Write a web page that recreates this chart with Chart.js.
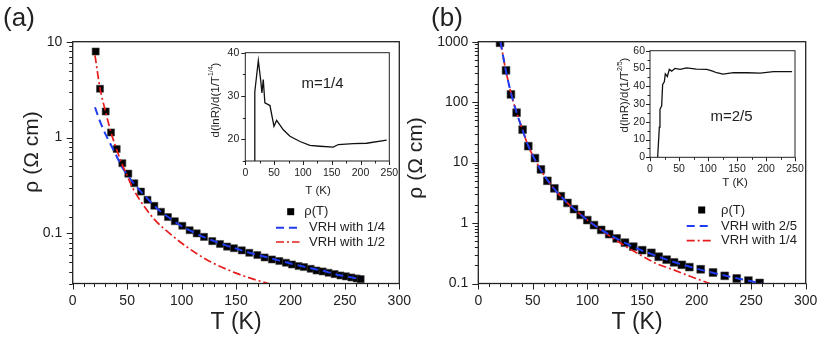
<!DOCTYPE html>
<html>
<head>
<meta charset="utf-8">
<script src="https://cdn.jsdelivr.net/npm/chart.js@4.4.0/dist/chart.umd.min.js"></script>
<style>
  html, body { margin: 0; padding: 0; background: #fff; }
  #wrap { position: relative; width: 831px; height: 337px; }
  #wrap canvas { position: absolute; left: 0; top: 0; }
</style>
</head>
<body>
<div id="wrap">
  <canvas id="mainA" width="831" height="337"></canvas>
  <canvas id="mainB" width="831" height="337"></canvas>
  <canvas id="insetA" width="831" height="337"></canvas>
  <canvas id="insetB" width="831" height="337"></canvas>
</div>
<script>
// ---- panel (a) ----
const aRhoT = [21.1, 25.1, 30.3, 35.2, 40.4, 45.6, 51.1, 56.6, 62.7, 68.7, 75.0, 81.1, 87.5, 93.8, 100.7, 107.4, 113.9, 120.6, 128.2, 135.3, 141.8, 148.1, 155.3, 162.2, 169.6, 176.3, 183.0, 189.8, 195.9, 201.4, 207.5, 212.4, 218.6, 224.0, 229.6, 235.0, 240.6, 246.0, 251.0, 256.0, 260.8, 264.5];
const aRho = [7.9, 3.23, 1.87, 1.13, 0.76, 0.54, 0.42, 0.333, 0.273, 0.224, 0.194, 0.168, 0.148, 0.134, 0.12, 0.108, 0.1, 0.092, 0.083, 0.0775, 0.0728, 0.07, 0.0665, 0.0627, 0.0594, 0.0561, 0.0535, 0.0514, 0.0494, 0.0474, 0.0456, 0.0445, 0.0427, 0.041, 0.0401, 0.0388, 0.0376, 0.0364, 0.0356, 0.0347, 0.0339, 0.0333];

const aVrh14T = [20.5, 25, 30, 35, 40, 45, 50, 55, 60, 70, 80, 90, 100, 110, 120, 130, 140, 150, 160, 170, 180, 190, 200, 210, 220, 230, 240, 250, 260, 265];
const aVrh14 = [2.07, 1.48, 1.09, 0.84, 0.65, 0.5, 0.41, 0.345, 0.295, 0.222, 0.172, 0.142, 0.119, 0.104, 0.092, 0.083, 0.0755, 0.0695, 0.064, 0.0595, 0.0555, 0.052, 0.0485, 0.0457, 0.043, 0.0407, 0.0378, 0.0358, 0.0341, 0.0333];

const aVrh12T = [20.5, 25, 30, 35, 40, 45, 50, 55, 62, 75, 89, 105, 126, 150, 169, 180.5];
const aVrh12 = [7.2, 3.3, 1.9, 1.15, 0.77, 0.54, 0.4, 0.3, 0.22, 0.14, 0.1, 0.072, 0.051, 0.0385, 0.0325, 0.0298];

const aInsetT = [15.6, 16.5, 22.6, 26.6, 28.9, 31.2, 34.0, 39.9, 42.8, 49.8, 54.4, 66, 77.5, 95, 112, 129.6, 152.8, 161.5, 187.5, 210.6, 245.4];
const aInsetD = [12, 31, 38.2, 33.8, 30.7, 33.8, 28.4, 28.0, 27.8, 23.0, 24.4, 22.2, 20.7, 19.5, 18.6, 18.4, 18.2, 18.8, 19.0, 19.1, 19.8];

// ---- panel (b) ----
const bRhoT = [19.9, 25.4, 29.9, 35.1, 40.6, 45.8, 51.9, 57.4, 63.3, 69.7, 75.6, 81.7, 87.7, 93.8, 99.9, 106, 112.6, 119.9, 126.8, 134.4, 142, 150.2, 158.6, 165.3, 172.6, 179.4, 186.5, 193.4, 203.8, 215.1, 225.8, 236.8, 247.5, 257.8];
const bRho = [960, 336, 134, 67, 35, 18.7, 11.9, 7.7, 5.0, 3.75, 2.78, 2.15, 1.7, 1.36, 1.12, 0.925, 0.77, 0.655, 0.556, 0.474, 0.407, 0.356, 0.322, 0.277, 0.248, 0.224, 0.204, 0.187, 0.172, 0.152, 0.134, 0.121, 0.112, 0.102];

const bVrh25T = [20.3, 25, 30, 35, 40, 45, 50, 55, 60, 70, 80, 90, 100, 110, 120, 130, 140, 150, 160, 170, 180, 190, 200, 210, 220, 230, 240, 250, 260];
const bVrh25 = [1000, 350, 140, 68, 37, 20.5, 13, 8.9, 6.3, 3.6, 2.3, 1.58, 1.12, 0.83, 0.645, 0.515, 0.42, 0.352, 0.3, 0.258, 0.225, 0.198, 0.176, 0.158, 0.143, 0.13, 0.119, 0.109, 0.1];

const bVrh14T = [20.3, 25, 30, 35, 40, 45, 50, 55, 60, 70, 80, 90, 100, 110, 120, 136, 148, 163, 179, 194, 212];
const bVrh14 = [1000, 350, 140, 68, 37, 20.5, 13, 8.9, 6.3, 3.6, 2.3, 1.58, 1.12, 0.83, 0.62, 0.4, 0.3, 0.215, 0.168, 0.132, 0.1];

const bInsetT = [13.2, 16.1, 17.2, 20.1, 21.8, 24.7, 26.4, 29.9, 33.3, 37.4, 43, 52, 63, 80, 98, 108, 115, 126, 144, 167, 190, 213, 245];
const bInsetD = [0, 17, 27, 29, 41, 42.5, 47, 45.5, 49.5, 48.5, 50, 49.5, 50.3, 49.6, 49.5, 48.5, 47.6, 46.8, 47.7, 47.6, 47.4, 48.2, 48.2];

const FONT = '"Liberation Sans", Arial, sans-serif';
const INK = '#222';
const BLUE = '#1f3cf0';
const RED = '#e81c1c';

function pairs(xs, ys) {
    return xs.map((x, i) => ({ x: x, y: ys[i] }));
}

function isPow10(v) {
    const l = Math.log10(v);
    return Math.abs(l - Math.round(l)) < 1e-9;
}

function onStep(v, step) {
    return Math.abs(v / step - Math.round(v / step)) < 1e-9;
}

function drawText(ctx, str, x, y, size, align, rot) {
    ctx.save();
    ctx.translate(x, y);
    if (rot) ctx.rotate(rot);
    ctx.font = size + 'px ' + FONT;
    ctx.fillStyle = INK;
    ctx.textAlign = align || 'center';
    ctx.textBaseline = 'middle';
    ctx.fillText(str, 0, 0);
    ctx.restore();
}

// box, outward ticks and the loose texts of one chart
function makeFrame(cfg) {
    return {
        id: 'frame',
        afterDraw(chart) {
            const ctx = chart.ctx;
            const area = chart.chartArea;
            const xs = chart.scales.x, ys = chart.scales.y;
            ctx.save();
            ctx.strokeStyle = INK;
            ctx.lineWidth = cfg.lineWidth;
            ctx.strokeRect(area.left, area.top, area.right - area.left, area.bottom - area.top);

            ctx.lineWidth = 1;
            ctx.beginPath();
            xs.ticks.forEach(t => {
                const len = onStep(t.value, cfg.xLabelStep) ? cfg.major : cfg.minor;
                const p = Math.round(xs.getPixelForValue(t.value)) + 0.5;
                ctx.moveTo(p, area.bottom);
                ctx.lineTo(p, area.bottom + len);
            });
            ys.ticks.forEach(t => {
                const major = cfg.yLog ? isPow10(t.value) : onStep(t.value, cfg.yLabelStep);
                const len = major ? cfg.major : cfg.minor;
                const p = Math.round(ys.getPixelForValue(t.value)) + 0.5;
                ctx.moveTo(area.left, p);
                ctx.lineTo(area.left - len, p);
            });
            ctx.stroke();

            (cfg.texts || []).forEach(t => drawText(ctx, t.s, t.x, t.y, t.size, t.align, t.rot));

            if (cfg.supTitle) {
                const s = cfg.supTitle;
                ctx.save();
                ctx.translate(s.x, s.y);
                ctx.rotate(-Math.PI / 2);
                ctx.fillStyle = INK;
                ctx.textBaseline = 'middle';
                ctx.textAlign = 'left';
                ctx.font = s.size + 'px ' + FONT;
                const w1 = ctx.measureText(s.pre).width;
                const w3 = ctx.measureText(s.post).width;
                ctx.font = s.supSize + 'px ' + FONT;
                const w2 = ctx.measureText(s.sup).width;
                let x0 = -(w1 + w2 + w3) / 2;
                ctx.font = s.size + 'px ' + FONT;
                ctx.fillText(s.pre, x0, 0);
                ctx.font = s.supSize + 'px ' + FONT;
                ctx.fillText(s.sup, x0 + w1, -s.size * 0.42);
                ctx.font = s.size + 'px ' + FONT;
                ctx.fillText(s.post, x0 + w1 + w2, 0);
                ctx.restore();
            }

            if (cfg.legend) {
                const lg = cfg.legend;
                lg.rows.forEach(r => {
                    ctx.save();
                    if (r.kind === 'point') {
                        ctx.fillStyle = '#000';
                        ctx.fillRect(lg.markX - 3.5, r.y - 3.5, 7, 7);
                    } else {
                        ctx.strokeStyle = r.color;
                        ctx.lineWidth = r.width;
                        ctx.setLineDash(r.dash);
                        ctx.beginPath();
                        ctx.moveTo(lg.lineX0, r.y);
                        ctx.lineTo(lg.lineX1, r.y);
                        ctx.stroke();
                    }
                    ctx.restore();
                    drawText(ctx, r.label, r.textX, r.y, lg.size, 'left', 0);
                });
            }
            ctx.restore();
        }
    };
}

function linearAxis(min, max, step, labelStep, size, pad, fit, horizontal) {
    return {
        type: 'linear',
        min: min,
        max: max,
        grid: { display: false, drawTicks: false },
        border: { display: false },
        ticks: {
            stepSize: step,
            autoSkip: false,
            maxRotation: 0,
            padding: pad,
            color: INK,
            font: { family: FONT, size: size },
            callback: v => (onStep(v, labelStep) ? String(v) : '')
        },
        afterFit: s => { if (horizontal) s.height = fit; else s.width = fit; }
    };
}

function logAxis(min, max, size, pad, fit) {
    return {
        type: 'logarithmic',
        min: min,
        max: max,
        grid: { display: false, drawTicks: false },
        border: { display: false },
        ticks: {
            autoSkip: false,
            padding: pad,
            color: INK,
            font: { family: FONT, size: size },
            callback: v => (isPow10(v) ? String(v) : '')
        },
        afterFit: s => { s.width = fit; }
    };
}

function pointSet(xs, ys, radius) {
    return {
        data: pairs(xs, ys),
        showLine: false,
        pointStyle: 'rect',
        pointRadius: radius,
        pointBackgroundColor: '#000',
        pointBorderColor: '#444',
        pointBorderWidth: 0.6,
        order: 2
    };
}

function curveSet(xs, ys, color, dash, width, order) {
    return {
        data: pairs(xs, ys),
        showLine: true,
        borderColor: color,
        borderWidth: width,
        borderDash: dash,
        pointRadius: 0,
        cubicInterpolationMode: 'monotone',
        order: order
    };
}

function baseOptions(padding, scales) {
    return {
        responsive: false,
        animation: false,
        events: [],
        layout: { padding: padding },
        plugins: { legend: { display: false }, tooltip: { enabled: false } },
        scales: scales
    };
}

// main chart (a)
new Chart(document.getElementById('mainA'), {
    type: 'scatter',
    data: {
        datasets: [
            pointSet(aRhoT, aRho, 5),
            curveSet(aVrh14T, aVrh14, BLUE, [8, 5], 2, 1),
            curveSet(aVrh12T, aVrh12, RED, [8, 3, 2, 3], 1.7, 0)
        ]
    },
    options: baseOptions({ left: 0, top: 41.7, right: 431.7, bottom: 0 }, {
        x: linearAxis(0, 300, 10, 50, 14, 9, 53.5, true),
        y: logAxis(0.03, 10, 14, 10.5, 72.7)
    }),
    plugins: [makeFrame({
        lineWidth: 1.3, major: 6, minor: 3.5, xLabelStep: 50, yLog: true,
        texts: [
            { s: '(a)', x: 19, y: 19, size: 26 },
            { s: 'T (K)', x: 236, y: 323, size: 23 },
            { s: 'ρ (Ω cm)', x: 32, y: 152, size: 21, rot: -Math.PI / 2 }
        ],
        legend: {
            size: 13, markX: 290.7, lineX0: 276, lineX1: 299.5,
            rows: [
                { kind: 'point', y: 211.7, textX: 304.3, label: 'ρ(T)' },
                { kind: 'line', y: 227.7, textX: 309, label: 'VRH with 1/4', color: BLUE, dash: [8, 5], width: 2 },
                { kind: 'line', y: 242, textX: 309, label: 'VRH with 1/2', color: RED, dash: [8, 3, 2, 3], width: 1.7 }
            ]
        }
    })]
});

// main chart (b)
new Chart(document.getElementById('mainB'), {
    type: 'scatter',
    data: {
        datasets: [
            pointSet(bRhoT, bRho, 5.5),
            curveSet(bVrh25T, bVrh25, BLUE, [8, 5], 2, 0),
            curveSet(bVrh14T, bVrh14, RED, [8, 3, 2, 3], 1.7, 1)
        ]
    },
    options: baseOptions({ left: 400, top: 41.7, right: 25.3, bottom: 0 }, {
        x: linearAxis(0, 300, 10, 50, 14, 9, 53.5, true),
        y: logAxis(0.1, 1000, 14, 10, 78.3)
    }),
    plugins: [makeFrame({
        lineWidth: 1.3, major: 6, minor: 3.5, xLabelStep: 50, yLog: true,
        texts: [
            { s: '(b)', x: 447, y: 19, size: 26 },
            { s: 'T (K)', x: 637, y: 323, size: 23 },
            { s: 'ρ (Ω cm)', x: 416, y: 158, size: 21, rot: -Math.PI / 2 }
        ],
        legend: {
            size: 13, markX: 701.7, lineX0: 686.7, lineX1: 710.7,
            rows: [
                { kind: 'point', y: 210, textX: 721, label: 'ρ(T)' },
                { kind: 'line', y: 226, textX: 721, label: 'VRH with 2/5', color: BLUE, dash: [8, 5], width: 2 },
                { kind: 'line', y: 240.7, textX: 721, label: 'VRH with 1/4', color: RED, dash: [8, 3, 2, 3], width: 1.7 }
            ]
        }
    })]
});

// inset (a)
new Chart(document.getElementById('insetA'), {
    type: 'scatter',
    data: {
        datasets: [{
            data: pairs(aInsetT, aInsetD),
            showLine: true, borderColor: '#111', borderWidth: 1.3, pointRadius: 0, tension: 0
        }]
    },
    options: baseOptions({ left: 200, top: 52.7, right: 441.7, bottom: 0 }, {
        x: linearAxis(0, 250, 25, 50, 10.5, 6, 176, true),
        y: linearAxis(15, 40, 5, 10, 10.5, 6, 45.3, false)
    }),
    plugins: [makeFrame({
        lineWidth: 1, major: 4, minor: 2.5, xLabelStep: 50, yLabelStep: 10, yLog: false,
        texts: [
            { s: 'm=1/4', x: 322.5, y: 84, size: 15 },
            { s: 'T (K)', x: 318, y: 191, size: 11.5 }
        ],
        supTitle: { x: 216, y: 100, pre: 'd(lnR)/d(1/T', sup: '1/4', post: ')', size: 11.5, supSize: 7 }
    })]
});

// inset (b)
new Chart(document.getElementById('insetB'), {
    type: 'scatter',
    data: {
        datasets: [{
            data: pairs(bInsetT, bInsetD),
            showLine: true, borderColor: '#111', borderWidth: 1.3, pointRadius: 0, tension: 0
        }]
    },
    options: baseOptions({ left: 600, top: 50.7, right: 36, bottom: 0 }, {
        x: linearAxis(0, 250, 25, 50, 10.5, 6, 179.7, true),
        y: linearAxis(0, 60, 5, 10, 10.5, 5, 50, false)
    }),
    plugins: [makeFrame({
        lineWidth: 1, major: 4, minor: 2.5, xLabelStep: 50, yLabelStep: 10, yLog: false,
        texts: [
            { s: 'm=2/5', x: 731.5, y: 117, size: 15 },
            { s: 'T (K)', x: 735, y: 183, size: 11.5 }
        ],
        supTitle: { x: 625, y: 95, pre: 'd(lnR)/d(1/T', sup: '2/5', post: ')', size: 11.5, supSize: 7 }
    })]
});
</script>
</body>
</html>
